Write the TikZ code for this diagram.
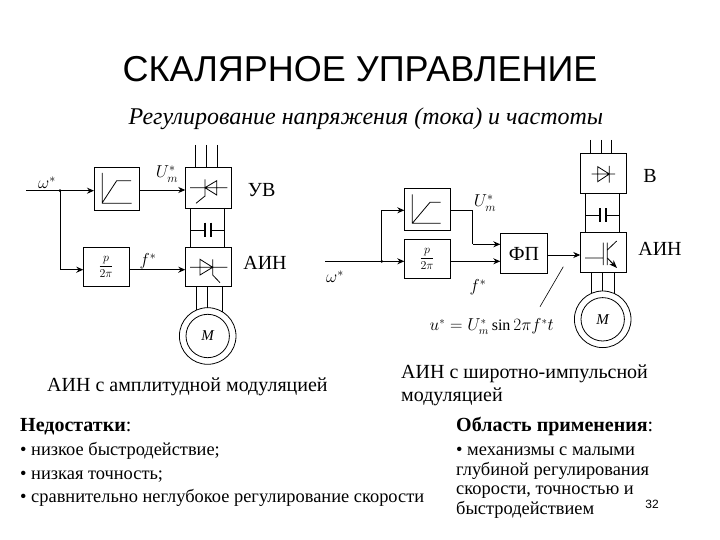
\documentclass[tikz,border=0pt]{standalone}
\usepackage{fontspec}
\setmainfont{Liberation Serif}
\newfontfamily\sansf{Liberation Sans}
\usetikzlibrary{arrows.meta}
\tikzset{
 box/.style={draw,line width=0.9pt,inner sep=0pt,minimum width=45.4pt,anchor=north west},
 thin line/.style={line width=0.8pt},
 arr/.style={-{Stealth[length=7pt,width=6pt]},line width=0.9pt},
 barr/.style={-{Stealth[length=7pt,width=6pt]},line width=1.5pt},
 thick line/.style={line width=1.5pt},
 plate/.style={line width=2pt},
 body/.style={anchor=base west,inner sep=0pt,font=\fontsize{18.4}{21}\selectfont},
 head/.style={anchor=base west,inner sep=0pt,font=\fontsize{20}{23}\selectfont},
 lab/.style={inner sep=0pt,font=\fontsize{20}{23}\selectfont},
 sym/.style={inner sep=0pt,font=\fontsize{17}{20}\selectfont},
 frc/.style={inner sep=0pt,font=\fontsize{13}{15}\selectfont},
}
\begin{document}
\begin{tikzpicture}[x=1pt,y=-1pt]
\useasboundingbox (0,0) rectangle (720,540);
\fill[white] (0,0) rectangle (720,540);
% titles
\node[inner sep=0pt,font=\sansf\fontsize{36}{40}\selectfont] (title) at (360,69) {СКАЛЯРНОЕ УПРАВЛЕНИЕ};
\node[inner sep=0pt,font=\itshape\fontsize{24}{28}\selectfont] (subtitle) at (366,119) {Регулирование напряжения (тока) и частоты};
% left scheme boxes
\node[box,minimum height=42.7pt] (rampL) at (94,167.3) {};
\node[box,minimum height=40.7pt] (uv) at (185.3,167.3) {};
\node[box,minimum height=38.7pt] (pL) at (83.3,247.3) {};
\node[box,minimum height=38.7pt] (ainL) at (185.3,247.3) {};
\node[draw,circle,line width=0.8pt,minimum size=56.6pt,inner sep=0pt] (motorL) at (207.7,336) {};
\node[draw,circle,line width=0.8pt,minimum size=43.4pt,inner sep=0pt,font=\itshape\fontsize{15}{17}\selectfont] (motorLi) at (207.7,336) {М};
\node[frc] (pfracL) at (106,267) {$\displaystyle\frac{p}{2\pi}$};
\coordinate (inL) at (26,190.7);
\coordinate (jL) at (60,190.7);
\coordinate (jL2) at (60,269.7);
\draw[thick line] (inL) -- (jL);
\draw[barr] (jL) -- (jL -| rampL.west);
\fill (jL) circle (1.5pt);
\draw[thin line] (jL) -- (jL2);
\draw[barr] (jL2) -- (jL2 -| pL.west);
\draw[arr] (rampL.east |- 0,190) -- (uv.west |- 0,190);
\draw[barr] (pL.east |- 0,269.7) -- (ainL.west |- 0,269.7);
\foreach \x in {195,206,217.3} \draw[thin line] (\x,145) -- (\x,167.3);
\draw[thin line] (190.3,208) -- (190.3,247.3) (224.3,208) -- (224.3,247.3) (190.3,230) -- (205,230) (210.7,230) -- (224.3,230);
\draw[plate] (205,222.7) -- (205,236.7) (210.7,222.7) -- (210.7,236.7);
\draw[thin line] (196.7,286) -- (196.7,310.3) (207.7,286) -- (207.7,308) (222.7,286) -- (222.7,312.3);
% ramp L
\draw[thin line] (102.3,173) -- (102.3,203.3) -- (131.7,203.3) (102.3,202.7) -- (116.7,180.7) -- (131,180.7);
% thyristor UV
\draw[thin line] (190,187.7) -- (227.3,187.7) (205,179.3) -- (205,196.7) (205,187.7) -- (216.7,180.7) -- (216.7,195) -- cycle (205,196) -- (196,203.3);
% thyristor AIN
\draw[thin line] (190,267.3) -- (227.3,267.3) (200,259.3) -- (200,275) -- (212.7,267.3) -- cycle (212.7,259.3) -- (212.7,275) (212.7,275) -- (220,282.7);
\node[sym] (wL) at (47,183) {$\omega^{*}$};
\node[sym] (UL) at (167,174) {$U_{m}^{*}$};
\node[sym] (fL) at (148,261) {$f^{*}$};
\node[lab] (uvL) at (261.7,190) {УВ};
\node[lab] (ainLl) at (265,263) {АИН};
% right scheme boxes
\node[box,minimum height=42pt] (rampR) at (404.3,188.3) {};
\node[box,minimum height=39pt] (pR) at (404.3,239.3) {};
\node[box,minimum height=40pt,minimum width=46.4pt,font=\fontsize{20}{23}\selectfont] (fp) at (500.3,233.3) {ФП};
\node[box,minimum height=40pt] (vb) at (580.3,153.3) {};
\node[box,minimum height=40pt] (ainR) at (580.3,232.3) {};
\node[draw,circle,line width=0.8pt,minimum size=56.6pt,inner sep=0pt] (motorR) at (602.7,319.3) {};
\node[draw,circle,line width=0.8pt,minimum size=43.4pt,inner sep=0pt,font=\itshape\fontsize{15}{17}\selectfont] (motorRi) at (602.7,319.3) {М};
\node[frc] (pfracR) at (427,259) {$\displaystyle\frac{p}{2\pi}$};
\coordinate (inR) at (325,261.3);
\coordinate (jR) at (381.7,261.3);
\coordinate (jR2) at (381.7,210.3);
\coordinate (bend1) at (472.7,210.3);
\coordinate (bend2) at (472.7,244.3);
\coordinate (leadA) at (540,306.7);
\coordinate (leadB) at (563.3,266.7);
\draw[thin line] (inR) -- (jR);
\draw[arr] (jR) -- (jR -| pR.west);
\fill (jR) circle (1.5pt);
\draw[thin line] (jR) -- (jR2);
\draw[arr] (jR2) -- (jR2 -| rampR.west);
\draw[thin line] (rampR.east |- bend1) -- (bend1) -- (bend2);
\draw[arr] (bend2) -- (bend2 -| fp.west);
\draw[arr] (pR.east |- jR) -- (fp.west |- jR);
\draw[arr] (fp.east |- 0,255) -- (ainR.west |- 0,255);
\draw[line width=0.6pt] (leadA) -- (leadB);
\foreach \x in {590,601,611.7} \draw[thin line] (\x,140) -- (\x,153.3);
\draw[thin line] (585.7,193.3) -- (585.7,232.3) (619.3,193.3) -- (619.3,232.3) (585.7,215.3) -- (600,215.3) (606,215.3) -- (619.3,215.3);
\draw[plate] (600,208.3) -- (600,222.3) (606,208.3) -- (606,222.3);
\draw[thin line] (591.7,272.3) -- (591.7,293.3) (602.7,272.3) -- (602.7,291) (614.7,272.3) -- (614.7,293.6);
% ramp R
\draw[thin line] (412.3,194.3) -- (412.3,223.3) -- (440.7,223.3) (412.3,223.3) -- (430,202.3) -- (440.7,202.3);
% diode
\draw[thin line] (591.7,174) -- (615,174) (597.7,166.7) -- (597.7,181.7) -- (609.3,174) -- cycle (609.3,166) -- (609.3,182.7);
% IGBT
\draw[thin line] (585,258) -- (603.3,258) (603.3,242.7) -- (603.3,265) (607.3,242.7) -- (607.3,265) (607.3,250) -- (616.7,241);
\draw[-{Stealth[length=8pt,width=6pt]},line width=1pt] (607.3,258) -- (617,268);
\node[sym] (wR) at (335,277) {$\omega^{*}$};
\node[sym] (UR) at (485,203) {$U_{m}^{*}$};
\node[sym] (fR) at (478,287) {$f^{*}$};
\node[sym,font=\fontsize{16}{19}\selectfont] (form) at (491.7,326.7) {$u^{*}=U_{m}^{*}\sin 2\pi f^{*}t$};
\node[lab] (vl) at (650,175.7) {В};
\node[lab] (ainRl) at (660,249) {АИН};
% captions
\node[head] (c1) at (47,391) {АИН с амплитудной модуляцией};
\node[head] (c2) at (401,378) {АИН с широтно-импульсной};
\node[head] (c3) at (401,401) {модуляцией};
\node[head] (h1) at (20,431) {\textbf{Недостатки}:};
\node[head] (h2) at (456,431) {\textbf{Область применения}:};
\node[body] (l1) at (20,455) {• низкое быстродействие;};
\node[body] (l2) at (20,479) {• низкая точность;};
\node[body] (l3) at (20,502) {• сравнительно неглубокое регулирование скорости};
\node[body] (r1) at (456,455) {• механизмы с малыми};
\node[body] (r2) at (456,475) {глубиной регулирования};
\node[body] (r3) at (456,494) {скорости, точностью и};
\node[body] (r4) at (456,514) {быстродействием};
\node[inner sep=0pt,font=\sansf\fontsize{12}{14}\selectfont] (num) at (652,504) {32};
\end{tikzpicture}
\end{document}
